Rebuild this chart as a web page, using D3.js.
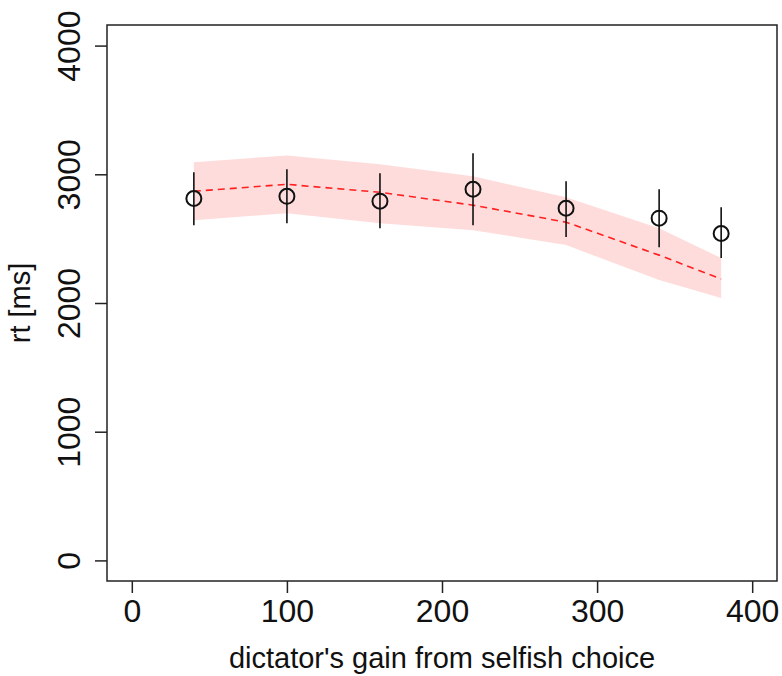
<!DOCTYPE html>
<html>
<head>
<meta charset="utf-8">
<script src="https://cdn.jsdelivr.net/npm/d3@7"></script>
<style>
  html, body { margin: 0; padding: 0; background: #fff; }
  svg { display: block; font-family: Arial, "Liberation Sans", sans-serif; }
</style>
</head>
<body>
<svg id="chart" width="782" height="676"></svg>
<script>
// ---- data ----
const gains      = [40, 100, 160, 220, 280, 340, 380];
const meanRT     = [2812, 2829, 2791, 2884, 2736, 2659, 2540];
const errLow     = [2605, 2620, 2581, 2605, 2512, 2434, 2349];
const errHigh    = [3016, 3039, 3008, 3163, 2946, 2884, 2744];
const fitRT      = [2868, 2922, 2860, 2760, 2628, 2372, 2186];
const fitLow     = [2643, 2698, 2620, 2566, 2450, 2178, 2039];
const fitHigh    = [3093, 3147, 3078, 2984, 2822, 2581, 2349];
const xTicks     = [0, 100, 200, 300, 400];
const yTicks     = [0, 1000, 2000, 3000, 4000];
const xLabel     = "dictator's gain from selfish choice";
const yLabel     = "rt [ms]";

// ---- layout ----
const svg = d3.select("#chart");
const L = 107, R = 777, T = 25, B = 581;
const x = d3.scaleLinear().domain([-16, 416]).range([L, R]);
const y = d3.scaleLinear().domain([-160, 4160]).range([B, T]);

// band
const band = gains.map((g, i) => ({ g, lo: fitLow[i], hi: fitHigh[i] }));
svg.append("path")
  .datum(band)
  .attr("d", d3.area().x(d => x(d.g)).y0(d => y(d.lo)).y1(d => y(d.hi)))
  .attr("fill", "#ffdcdc");

// dashed fit line
svg.append("path")
  .datum(gains.map((g, i) => ({ g, v: fitRT[i] })))
  .attr("d", d3.line().x(d => x(d.g)).y(d => y(d.v)))
  .attr("fill", "none")
  .attr("stroke", "#ff2020")
  .attr("stroke-width", 1.6)
  .attr("stroke-dasharray", "7,5");

// error bars
svg.append("g").selectAll("line")
  .data(gains.map((g, i) => ({ g, lo: errLow[i], hi: errHigh[i] })))
  .join("line")
  .attr("x1", d => x(d.g)).attr("x2", d => x(d.g))
  .attr("y1", d => y(d.lo)).attr("y2", d => y(d.hi))
  .attr("stroke", "#111").attr("stroke-width", 1.6);

// points
svg.append("g").selectAll("circle")
  .data(gains.map((g, i) => ({ g, v: meanRT[i] })))
  .join("circle")
  .attr("cx", d => x(d.g)).attr("cy", d => y(d.v))
  .attr("r", 7.5)
  .attr("fill", "none")
  .attr("stroke", "#111").attr("stroke-width", 2);

// box
svg.append("rect")
  .attr("x", L).attr("y", T).attr("width", R - L).attr("height", B - T)
  .attr("fill", "none").attr("stroke", "#222").attr("stroke-width", 1.5);

// x axis
const xa = svg.append("g").attr("transform", `translate(0,${B})`)
  .call(d3.axisBottom(x).tickValues(xTicks).tickSize(12).tickPadding(4).tickFormat(d3.format("d")));
xa.select(".domain").remove();
xa.selectAll(".tick line").attr("stroke", "#222").attr("stroke-width", 1.5);
xa.selectAll(".tick text")
  .attr("fill", "#111")
  .attr("font-size", "32px")
  .attr("font-family", "Arial, 'Liberation Sans', sans-serif")
  .attr("dy", null)
  .attr("y", 41);

// y axis
const ya = svg.append("g").attr("transform", `translate(${L},0)`)
  .call(d3.axisLeft(y).tickValues(yTicks).tickSize(12).tickFormat(d3.format("d")));
ya.select(".domain").remove();
ya.selectAll(".tick line").attr("stroke", "#222").attr("stroke-width", 1.5);
ya.selectAll(".tick text")
  .attr("fill", "#111")
  .attr("font-size", "32px")
  .attr("font-family", "Arial, 'Liberation Sans', sans-serif")
  .attr("x", null).attr("dy", null)
  .attr("text-anchor", "middle")
  .attr("transform", "translate(-27,0) rotate(-90)");

// titles
svg.append("text")
  .attr("x", (L + R) / 2).attr("y", 668)
  .attr("text-anchor", "middle")
  .attr("font-size", "29px")
  .attr("fill", "#111")
  .text(xLabel);

svg.append("text")
  .attr("transform", `translate(30,${(T + B) / 2}) rotate(-90)`)
  .attr("text-anchor", "middle")
  .attr("font-size", "29px")
  .attr("fill", "#111")
  .text(yLabel);
</script>
</body>
</html>
